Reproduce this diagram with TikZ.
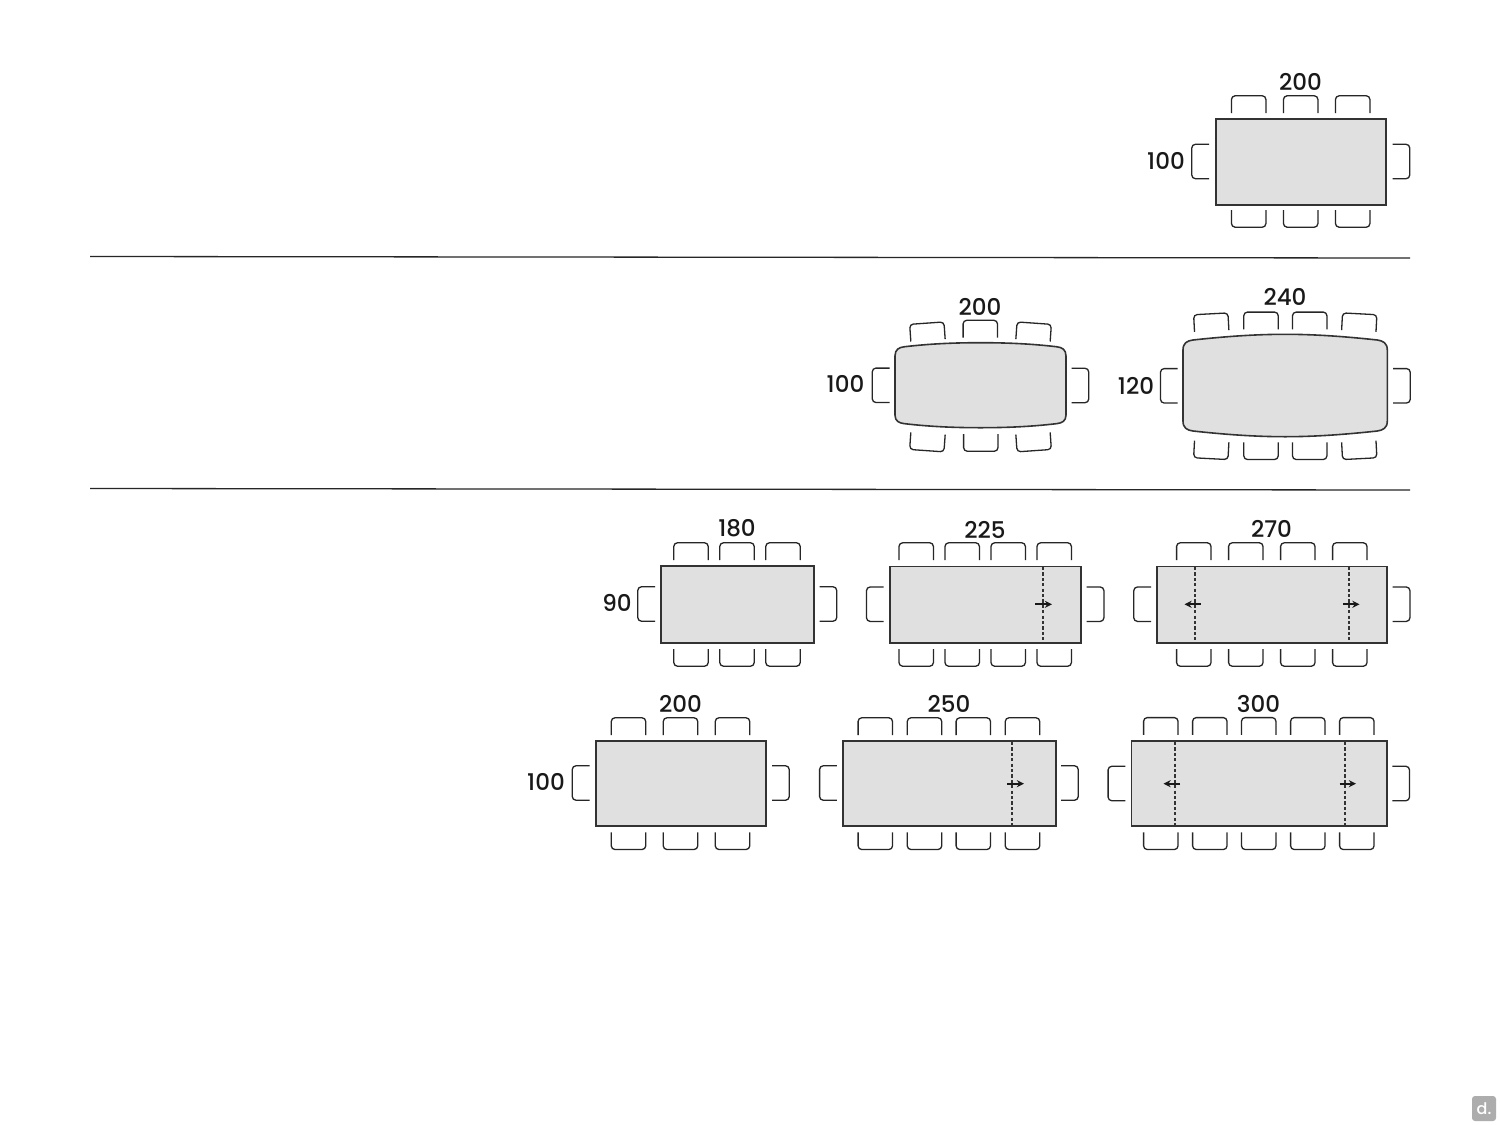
\documentclass[tikz,border=0pt]{standalone}
\usepackage{fontspec}
\setmainfont{Poppins Medium}
\usetikzlibrary{arrows.meta}
\tikzset{
  chairline/.style={draw=black!85,line width=0.65pt,rounded corners=1.8pt},
  tabletop/.style={draw=black!80,fill=black!12,line width=0.8pt},
  extension/.style={draw=black!80,line width=0.8pt,dash pattern=on 1.6pt off 1.1pt},
  slide/.style={draw=black!90,line width=0.95pt,-{Stealth[length=3.6pt,width=3.6pt]}},
  dimlabel/.style={font=\fontsize{11.5}{12}\selectfont,text=black!90,inner sep=0pt},
  divider/.style={draw=black!85,line width=0.65pt}
}
% base midpoint (x,y), rotation: 0 up, 180 down, 90 left, -90 right
\newcommand{\onechair}[3]{\begin{scope}[shift={(#1,#2)},rotate=#3]
  \draw[chairline] (-17.2,0) -- (-17.2,-17.2) -- (17.2,-17.2) -- (17.2,0);
\end{scope}}
\newcommand{\chairrow}[3]{\foreach \cx in {#1} {\onechair{\cx}{#2}{#3}}}
\begin{document}
\begin{tikzpicture}[x=0.5pt,y=-0.5pt]
\useasboundingbox (0,0) rectangle (1500,1125);
\fill[white] (0,0) rectangle (1500,1125);
% dividers
\coordinate (d1a) at (90,256.5); \coordinate (d1b) at (1410,258);
\coordinate (d2a) at (90,488.5); \coordinate (d2b) at (1410,490);
\draw[divider] (d1a) -- (d1b);
\draw[divider] (d2a) -- (d2b);
% table row 1
\draw[tabletop] (1215.7,119) rectangle (1386,204.7);
\chairrow{1248.7,1300.7,1352.7}{113}{0}
\chairrow{1248.7,1300.7,1352.7}{210}{180}
\onechair{1209}{161.5}{90}
\onechair{1392.5}{161.5}{-90}
\node[dimlabel] (r1w) at (1300.5,82) {200};
\node[dimlabel] (r1h) at (1166,160.5) {100};
% bulged 200
\draw[tabletop] (895,356) .. controls (895,349.5) and (899,347.4) .. (904,346.8)
  .. controls (930,343.7) and (955,342.7) .. (980.5,342.7)
  .. controls (1006,342.7) and (1031,343.7) .. (1057,346.8)
  .. controls (1062,347.4) and (1066,349.5) .. (1066,356)
  -- (1066,415)
  .. controls (1066,421) and (1062,423) .. (1057,423.6)
  .. controls (1031,426.7) and (1006,427.7) .. (980.5,427.7)
  .. controls (955,427.7) and (930,426.7) .. (904,423.6)
  .. controls (899,423) and (895,421) .. (895,415) -- cycle;
\onechair{928}{340.3}{4}
\onechair{980.3}{337.5}{0}
\onechair{1033}{340.3}{-4}
\onechair{928}{433.5}{176}
\onechair{980.8}{434}{180}
\onechair{1033}{433.5}{184}
\onechair{889.5}{385.3}{90}
\onechair{1071.5}{385.5}{-90}
\node[dimlabel] (b1w) at (980,306.5) {200};
\node[dimlabel] (b1h) at (845.5,384) {100};
% bulged 240
\draw[tabletop] (1183,350) .. controls (1183,343) and (1187,340.8) .. (1193,340)
  .. controls (1225,336.5) and (1255,334.3) .. (1285.2,334.3)
  .. controls (1315,334.3) and (1345,336.5) .. (1377.3,340)
  .. controls (1383,340.8) and (1387.3,343) .. (1387.3,350)
  -- (1387.3,421)
  .. controls (1387.3,428) and (1383,430.2) .. (1377.3,431)
  .. controls (1345,434.5) and (1315,436.7) .. (1285.2,436.7)
  .. controls (1255,436.7) and (1225,434.5) .. (1193,431)
  .. controls (1187,430.2) and (1183,428) .. (1183,421) -- cycle;
\onechair{1211.7}{331}{3}
\onechair{1261}{329.3}{0}
\onechair{1309.7}{329.3}{0}
\onechair{1358.8}{331}{-3}
\onechair{1211.7}{441.5}{177}
\onechair{1261}{442.3}{180}
\onechair{1309.7}{442.3}{180}
\onechair{1358.8}{441.5}{183}
\onechair{1177.7}{385.8}{90}
\onechair{1393}{385.8}{-90}
\node[dimlabel] (b2w) at (1285,297) {240};
\node[dimlabel] (b2h) at (1136,385.5) {120};
% 180
\draw[tabletop] (660.7,566) rectangle (814,642.7);
\chairrow{691,737,783}{560}{0}
\chairrow{691,737,783}{649}{180}
\onechair{655}{604}{90}
\onechair{819.5}{604}{-90}
\node[dimlabel] (a1w) at (737,528.5) {180};
\node[dimlabel] (a1h) at (617,602.5) {90};
% 225
\draw[tabletop] (889.7,566.3) rectangle (1081,642.7);
\chairrow{916.2,962.2,1008.2,1054.2}{560}{0}
\chairrow{916.2,962.2,1008.2,1054.2}{649}{180}
\onechair{883.7}{604.2}{90}
\onechair{1086.7}{604.2}{-90}
\coordinate (a2t) at (1042.7,567); \coordinate (a2b) at (1042.7,642);
\draw[extension] (a2t) -- (a2b);
\coordinate (a2s) at (1035,604.3); \coordinate (a2e) at (1052,604.3);
\draw[slide] (a2s) -- (a2e);
\node[dimlabel] (a2w) at (985,530) {225};
% 270
\draw[tabletop] (1157,566.3) rectangle (1386.7,642.7);
\chairrow{1193.8,1245.8,1297.8,1349.8}{560}{0}
\chairrow{1193.8,1245.8,1297.8,1349.8}{649}{180}
\onechair{1151}{604.2}{90}
\onechair{1392.7}{604.2}{-90}
\coordinate (a3t) at (1195,567); \coordinate (a3b) at (1195,642);
\coordinate (a3u) at (1348.7,567); \coordinate (a3d) at (1348.7,642);
\draw[extension] (a3t) -- (a3b);
\draw[extension] (a3u) -- (a3d);
\coordinate (a3s) at (1200.7,604.3); \coordinate (a3e) at (1184.5,604.3);
\coordinate (a3p) at (1343,604.3); \coordinate (a3q) at (1359.5,604.3);
\draw[slide] (a3s) -- (a3e);
\draw[slide] (a3p) -- (a3q);
\node[dimlabel] (a3w) at (1271.5,529) {270};
% 200 lower
\draw[tabletop] (595.7,741) rectangle (766,826);
\chairrow{628.5,680.5,732.5}{735}{0}
\chairrow{628.5,680.5,732.5}{832.3}{180}
\onechair{589.5}{783}{90}
\onechair{772}{783}{-90}
\node[dimlabel] (c1w) at (680.5,704) {200};
\node[dimlabel] (c1h) at (546,782) {100};
% 250
\draw[tabletop] (842.7,741) rectangle (1055.7,826);
\chairrow{875.3,924.5,973.3,1022.5}{735}{0}
\chairrow{875.3,924.5,973.3,1022.5}{832.3}{180}
\onechair{836.8}{783}{90}
\onechair{1061}{783}{-90}
\coordinate (c2t) at (1012,742); \coordinate (c2b) at (1012,825);
\draw[extension] (c2t) -- (c2b);
\coordinate (c2s) at (1007,783.7); \coordinate (c2e) at (1024,783.7);
\draw[slide] (c2s) -- (c2e);
\node[dimlabel] (c2w) at (949,704) {250};
% 300
\draw[tabletop] (1131.3,741) rectangle (1386.7,826);
\chairrow{1160.8,1209.8,1258.7,1307.8,1356.8}{734.8}{0}
\chairrow{1160.8,1209.8,1258.7,1307.8,1356.8}{832.3}{180}
\onechair{1125.3}{783.5}{90}
\onechair{1392.3}{783.5}{-90}
\coordinate (c3t) at (1174.7,742); \coordinate (c3b) at (1174.7,825);
\coordinate (c3u) at (1344.7,742); \coordinate (c3d) at (1344.7,825);
\draw[extension] (c3t) -- (c3b);
\draw[extension] (c3u) -- (c3d);
\coordinate (c3s) at (1180,783.7); \coordinate (c3e) at (1163.5,783.7);
\coordinate (c3p) at (1339.7,783.7); \coordinate (c3q) at (1356,783.7);
\draw[slide] (c3s) -- (c3e);
\draw[slide] (c3p) -- (c3q);
\node[dimlabel] (c3w) at (1258.5,704) {300};
% logo
\node[fill=black!32,rounded corners=1.5pt,minimum width=12pt,minimum height=12.5pt,inner sep=0pt,
  text=white,font=\fontsize{8}{8}\selectfont] (logo) at (1484,1108.5) {d.};
\end{tikzpicture}
\end{document}
